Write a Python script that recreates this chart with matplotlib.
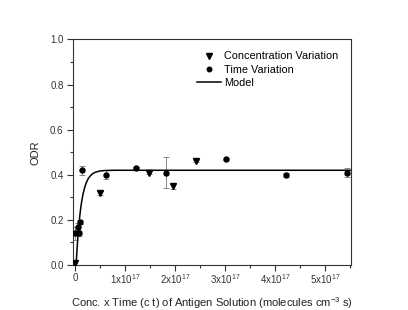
import matplotlib
matplotlib.use("Agg")
import matplotlib.pyplot as plt
from matplotlib.ticker import FixedLocator, MultipleLocator

plt.rcParams['font.family'] = ['Liberation Sans', 'DejaVu Sans']
plt.rcParams['mathtext.fontset'] = 'custom'
plt.rcParams['mathtext.rm'] = 'Liberation Sans'
plt.rcParams['mathtext.it'] = 'Liberation Sans'

# data (x in units of 1e17)
conc_x = [0.0, 0.49, 1.47, 1.95, 2.41]
conc_y = [0.01, 0.32, 0.41, 0.35, 0.46]
conc_err = [0.008, 0.008, 0.005, 0.015, 0.005]

time_x = [0.0, 0.07, 0.05, 0.10, 0.13, 0.61, 1.21, 1.82, 3.02, 4.23, 5.44]
time_y = [0.14, 0.14, 0.17, 0.19, 0.42, 0.40, 0.43, 0.41, 0.47, 0.40, 0.41]
time_err = [0.03, 0.01, 0.015, 0.01, 0.02, 0.02, 0.005, 0.07, 0.005, 0.008, 0.02]

model_x = [0.02, 0.03, 0.05, 0.07, 0.09, 0.11, 0.13, 0.16, 0.19, 0.22, 0.26,
           0.30, 0.35, 0.40, 0.50, 0.60, 0.80, 5.52]
model_y = [0.0, 0.040, 0.109, 0.165, 0.211, 0.249, 0.280, 0.316, 0.343, 0.363,
           0.382, 0.394, 0.405, 0.411, 0.417, 0.419, 0.42, 0.42]

xticks = [0, 1, 2, 3, 4, 5]
xticklabels = ['0', '1x10$^{17}$', '2x10$^{17}$', '3x10$^{17}$', '4x10$^{17}$', '5x10$^{17}$']
yticks = [0.0, 0.2, 0.4, 0.6, 0.8, 1.0]

fig = plt.figure(figsize=(4.08, 3.10), dpi=100)
ax = fig.add_axes([0.178, 0.145, 0.682, 0.728])

ecol = '#888888'
ax.errorbar(conc_x, conc_y, yerr=conc_err, fmt='none', ecolor=ecol, elinewidth=0.7, capsize=2, capthick=0.7, zorder=2)
ax.errorbar(time_x, time_y, yerr=time_err, fmt='none', ecolor=ecol, elinewidth=0.7, capsize=2, capthick=0.7, zorder=2)
ax.plot(conc_x, conc_y, linestyle='none', marker='v', color='black', markersize=4.2, label='Concentration Variation', zorder=3)
ax.plot(time_x, time_y, linestyle='none', marker='o', color='black', markersize=3.6, label='Time Variation', zorder=3)
ax.plot(model_x, model_y, color='black', linewidth=1.1, label='Model', zorder=3)

ax.set_xlim(-0.05, 5.52)
ax.set_ylim(0.0, 1.0)
ax.xaxis.set_major_locator(FixedLocator(xticks))
ax.set_xticklabels(xticklabels)
ax.xaxis.set_minor_locator(MultipleLocator(0.5))
ax.set_yticks(yticks)
ax.set_yticklabels(['%.1f' % v for v in yticks])
ax.yaxis.set_minor_locator(MultipleLocator(0.1))
ax.tick_params(which='major', direction='out', length=4, width=0.8, labelsize=7, colors='#333333', labelcolor='#333333')
ax.tick_params(axis='x', which='major', pad=1.5)
ax.tick_params(axis='y', which='major', pad=2.5)
ax.tick_params(which='minor', direction='out', length=2, width=0.8, colors='#333333')
for s in ax.spines.values():
    s.set_linewidth(0.8)
    s.set_color('#333333')

ax.set_ylabel('ODR', fontsize=8, color='#222222', labelpad=7)
ax.set_xlabel('Conc. x Time (c t) of Antigen Solution (molecules cm$^{-3}$ s)', fontsize=8, color='#222222', labelpad=6)

ax.legend(loc='upper left', bbox_to_anchor=(0.42, 0.98), frameon=False, fontsize=7.8,
          handlelength=2.2, handletextpad=0.3, labelspacing=0.3, borderpad=0.2, markerscale=0.9)

fig.savefig('out.png', dpi=100)
